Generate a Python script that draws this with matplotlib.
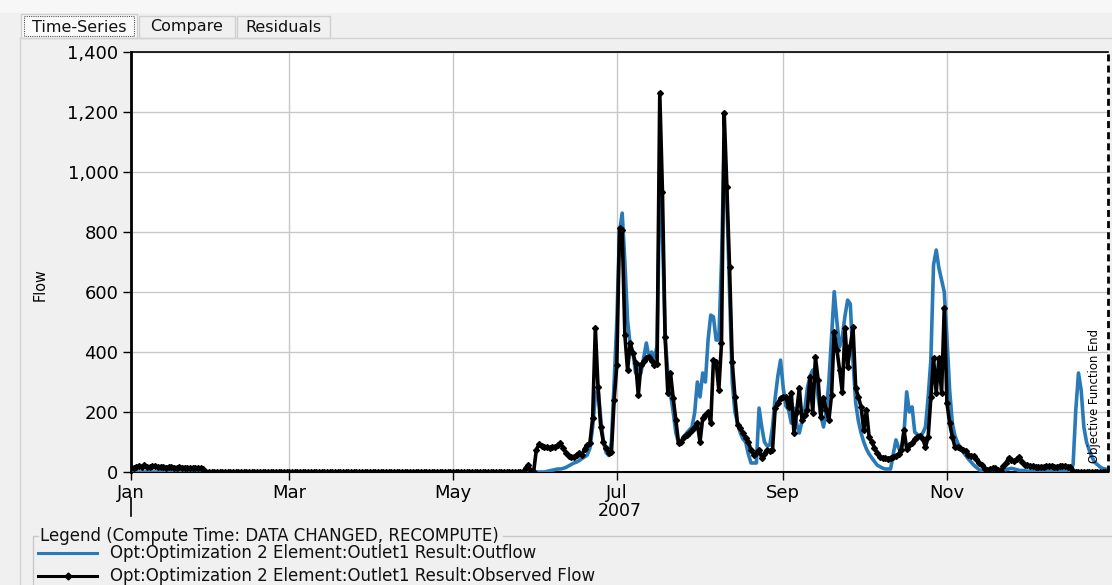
import numpy as np
import matplotlib.pyplot as plt
import matplotlib.dates as mdates
from matplotlib.patches import Rectangle
from matplotlib.ticker import FuncFormatter

W, H = 1112, 585

# daily series, 2007
dates = np.arange("2007-01-01", "2008-01-01", dtype="datetime64[D]")

obs_jan = [15, 14, 18, 20, 16, 22, 18, 17, 20, 19, 16, 18, 17, 15, 16, 17, 15, 14,
           16, 15, 15, 14, 13, 14, 15, 13, 12, 10]
obs_dry = [0.0] * 117
# May 26 - Dec 31
obs_wet = [
    0, 0, 13, 23, 5, 0, 73, 93, 88, 85,
    83, 80, 82, 85, 90, 97, 80, 65, 53, 50,
    50, 58, 63, 57, 78, 90, 98, 180, 480, 283,
    150, 100, 80, 64, 67, 240, 357, 813, 807, 457,
    340, 430, 397, 363, 257, 357, 370, 380, 383, 370,
    357, 360, 1264, 934, 450, 263, 330, 247, 173, 97,
    100, 117, 125, 130, 140, 150, 163, 100, 180, 190,
    200, 163, 373, 367, 273, 430, 1197, 950, 683, 367,
    250, 157, 147, 130, 115, 100, 73, 57, 65, 73,
    47, 60, 73, 70, 73, 213, 230, 247, 250, 250,
    217, 263, 130, 200, 280, 173, 190, 207, 317, 197,
    383, 307, 183, 247, 207, 173, 257, 467, 407, 340,
    267, 480, 350, 420, 483, 280, 250, 217, 140, 207,
    117, 100, 80, 65, 50, 48, 47, 45, 47, 50,
    53, 60, 73, 140, 77, 90, 97, 110, 117, 120,
    110, 83, 117, 250, 380, 263, 380, 263, 547, 230,
    163, 117, 83, 82, 80, 75, 70, 57, 55, 53,
    43, 30, 23, 10, 8, 10, 12, 13, 8, 3,
    20, 30, 47, 40, 37, 43, 51, 34, 23, 22,
    20, 20, 18, 17, 18, 18, 19, 20, 20, 18,
    18, 19, 20, 20, 18, 17, 3, 0, 0, 0,
    0, 0, 0, 0, 0, 0, 0, 0, 0, 0,
]
observed = np.array(obs_jan + obs_dry + obs_wet, dtype=float)

out_dry = [0.0] * 145
# May 26 - Dec 31
out_wet = [
    0, 0, 0, 0, 0, 0, 0, 0, 0, 0,
    2, 4, 6, 8, 10, 10, 12, 15, 20, 25,
    30, 33, 38, 45, 50, 57, 80, 150, 250, 280,
    180, 100, 65, 55, 100, 300, 500, 800, 863, 700,
    507, 420, 397, 330, 360, 330, 380, 430, 383, 400,
    380, 420, 950, 800, 450, 330, 260, 200, 130, 97,
    105, 117, 130, 140, 150, 197, 300, 250, 330, 300,
    440, 523, 517, 440, 440, 700, 1100, 900, 600, 300,
    200, 163, 130, 110, 100, 60, 30, 30, 30, 213,
    150, 100, 87, 90, 150, 247, 320, 373, 280, 220,
    207, 163, 213, 160, 130, 170, 207, 280, 320, 340,
    330, 250, 190, 150, 200, 300, 450, 601, 500, 417,
    450, 520, 573, 560, 370, 230, 170, 130, 100, 77,
    60, 47, 35, 23, 18, 13, 10, 10, 10, 60,
    107, 80, 70, 130, 267, 200, 217, 133, 125, 120,
    130, 150, 250, 373, 690, 740, 680, 640, 600, 447,
    273, 163, 120, 97, 80, 67, 55, 43, 33, 23,
    15, 8, 3, 3, 3, 3, 3, 3, 3, 3,
    5, 8, 10, 12, 10, 8, 5, 5, 4, 3,
    3, 3, 3, 3, 3, 3, 3, 3, 3, 3,
    3, 3, 3, 3, 3, 3, 25, 207, 330, 273,
    150, 100, 73, 50, 33, 25, 17, 12, 10, 8,
]
outflow = np.array(out_dry + out_wet, dtype=float)

y_ticks = [0, 200, 400, 600, 800, 1000, 1200, 1400]
month_ticks = [1, 3, 5, 7, 9, 11]
series_names = ["Opt:Optimization 2 Element:Outlet1 Result:Outflow",
                "Opt:Optimization 2 Element:Outlet1 Result:Observed Flow"]
tab_names = ["Time-Series", "Compare", "Residuals"]

BLUE = "#2a7ab8"
BG = "#f0f0f0"
FONT = "DejaVu Sans"

fig = plt.figure(figsize=(W / 100, H / 100), dpi=100, facecolor=BG)

# window chrome drawn in pixel coordinates
ui = fig.add_axes([0, 0, 1, 1])
ui.set_xlim(0, W)
ui.set_ylim(H, 0)
ui.axis("off")

ui.add_patch(Rectangle((0, 0), W, 13, facecolor="#f7f7f7", edgecolor="none"))
ui.plot([20, W], [38, 38], color="#d4d4d4", lw=1)
ui.plot([20, 20], [38, H], color="#d4d4d4", lw=1)
tab_x = [(21, 137), (139, 235), (237, 330)]
for i, (name, (x0, x1)) in enumerate(zip(tab_names, tab_x)):
    top = 14 if i == 0 else 16
    ui.add_patch(Rectangle((x0, top), x1 - x0, 38 - top,
                           facecolor="#fafafa" if i == 0 else BG,
                           edgecolor="#d0d0d0", lw=1))
    ui.text((x0 + x1) / 2, 27, name, ha="center", va="center",
            fontsize=11.5, family=FONT, color="#111111")
ui.add_patch(Rectangle((24, 16), 110, 20, facecolor="none",
                       edgecolor="#555555", lw=0.8, linestyle=(0, (1, 1))))

# legend group box
ui.plot([33, 33, 38], [H, 536, 536], color="#c8c8c8", lw=1)
ui.plot([503, W], [536, 536], color="#c8c8c8", lw=1)
ui.text(40, 536, "Legend (Compute Time: DATA CHANGED, RECOMPUTE)", ha="left",
        va="center", fontsize=12, family=FONT, color="#111111")
ui.plot([38, 97], [553, 553], color=BLUE, lw=2.2)
ui.plot([38, 97], [576, 576], color="black", lw=2.2)
ui.plot([67.5], [576], marker="D", ms=3.5, color="black")
ui.text(110, 553, series_names[0], ha="left", va="center",
        fontsize=12, family=FONT, color="#111111")
ui.text(110, 576, series_names[1], ha="left", va="center",
        fontsize=12, family=FONT, color="#111111")

# plot area
ax = fig.add_axes([131 / W, (H - 472) / H, 977 / W, 420 / H])
ax.set_facecolor("white")

ax.plot(dates, outflow, color=BLUE, lw=2.6, zorder=3)
ax.plot(dates, observed, color="black", lw=2.6, marker="D", ms=3,
        zorder=4)

ax.set_xlim(np.datetime64("2007-01-01"), np.datetime64("2007-12-31"))
ax.set_ylim(0, 1400)
ax.set_yticks(y_ticks)
ax.yaxis.set_major_formatter(FuncFormatter(lambda v, p: f"{int(v):,}"))
ax.xaxis.set_major_locator(mdates.MonthLocator(bymonth=month_ticks))
ax.xaxis.set_major_formatter(mdates.DateFormatter("%b"))

ax.grid(True, color="#c8c8c8", lw=1)
ax.set_axisbelow(True)
for side in ["left", "bottom", "top"]:
    ax.spines[side].set_color("black")
ax.spines["left"].set_linewidth(2)
ax.spines["bottom"].set_linewidth(1.5)
ax.spines["top"].set_linewidth(1.2)
ax.spines["right"].set_visible(False)
ax.tick_params(axis="both", direction="out", length=6, width=1,
               labelsize=13, colors="black", pad=3)
for lab in ax.get_xticklabels() + ax.get_yticklabels():
    lab.set_family(FONT)

ax.set_ylabel("Flow", fontsize=11.5, family=FONT, fontstretch="condensed",
              labelpad=0)
ax.yaxis.set_label_coords(-0.085, 0.445)

# year marker under the first tick
ax.plot([0, 0], [-0.062, -0.105], transform=ax.transAxes, color="black",
        lw=1.2, clip_on=False)
ax.text(np.datetime64("2007-07-02"), -0.092, "2007",
        transform=ax.get_xaxis_transform(), ha="center", va="center",
        fontsize=12.5, family=FONT)

# end of the objective function window
ax.axvline(np.datetime64("2007-12-31"), color="black", lw=2,
           linestyle=(0, (2.5, 1.5)), clip_on=False, zorder=5)
ax.text(np.datetime64("2007-12-26"), 0.022, "Objective Function End",
        transform=ax.get_xaxis_transform(), rotation=90, ha="center",
        va="bottom", fontsize=9.3, family=FONT, fontstretch="condensed")

fig.savefig("out.png", dpi=100, facecolor=BG)
